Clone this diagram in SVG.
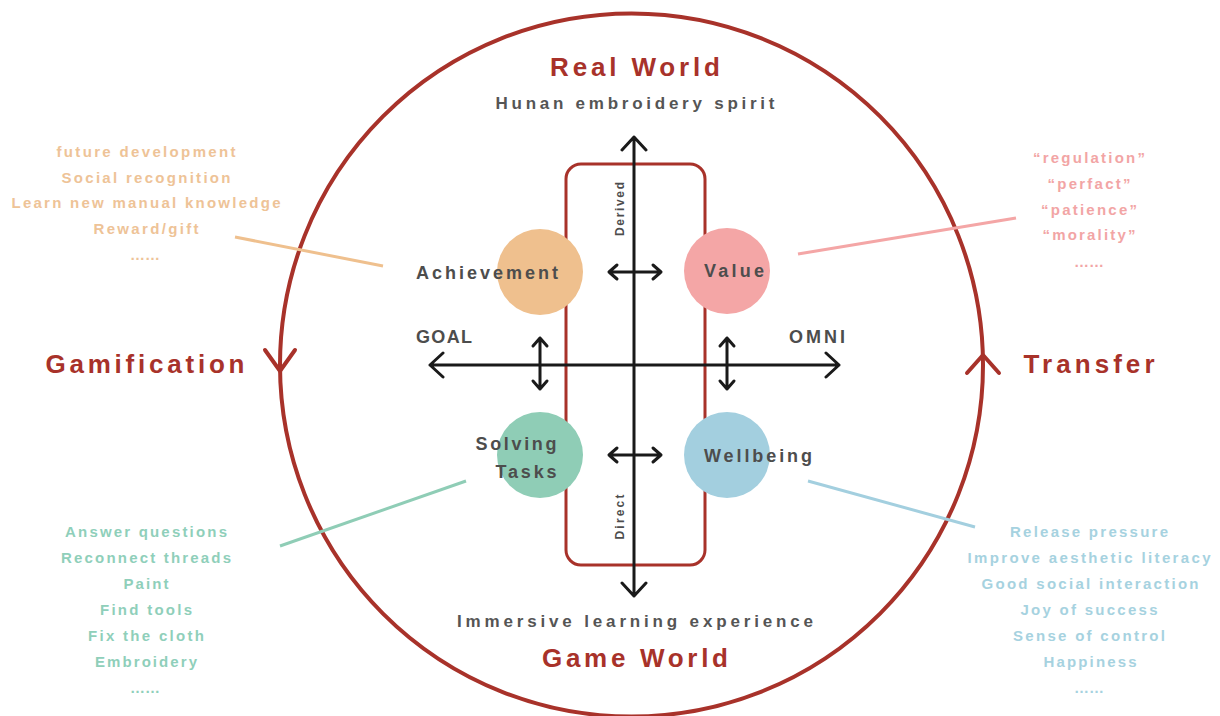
<svg xmlns="http://www.w3.org/2000/svg" width="1220" height="716" viewBox="0 0 1220 716">
<style>
text{font-family:"Liberation Sans",Arial,sans-serif;text-anchor:middle}
.title{font-size:26px;font-weight:bold;fill:#a8322a}
.sub{font-size:17px;font-weight:bold;fill:#555555}
.lbl{font-size:18px;font-weight:bold;fill:#4d4d4d}
.ax{font-size:12px;font-weight:bold;fill:#4d4d4d}
.li{font-size:15px;font-weight:bold}
.or{fill:#eec397}.pk{fill:#f2a5a5}.tl{fill:#8fcfba}.bl{fill:#a6d2e0}
.red{fill:none;stroke:#a8322a;stroke-width:4;stroke-linecap:round;stroke-linejoin:round}
.blk{fill:none;stroke:#1a1a1a;stroke-width:3;stroke-linecap:round;stroke-linejoin:round}
.lead{stroke-width:3;fill:none}
</style>
<rect width="1220" height="716" fill="#ffffff"/>
<g id="frame">
<circle cx="631.5" cy="365" r="351.5" class="red"/>
<path class="red" d="M265 350 L280 371 L295 350"/>
<path class="red" d="M967 373 L983 355 L999 373"/>
<rect x="566" y="164" width="139" height="401" rx="15" fill="none" stroke="#a8322a" stroke-width="3"/>
</g>
<g id="connectors">
<path class="blk" d="M634 137 V596 M622 150 L634 137 L646 150 M622 583 L634 596 L646 583"/>
<path class="blk" d="M430 365 H839 M443 353 L430 365 L443 377 M826 353 L839 365 L826 377"/>
<path class="blk" d="M609 272 H661 M617 265 L609 272 L617 279 M653 265 L661 272 L653 279"/>
<path class="blk" d="M609 455 H661 M617 448 L609 455 L617 462 M653 448 L661 455 L653 462"/>
<path class="blk" d="M540 338 V389 M533 346 L540 338 L547 346 M533 381 L540 389 L547 381"/>
<path class="blk" d="M727 338 V389 M720 346 L727 338 L734 346 M720 381 L727 389 L734 381"/>
<line class="lead" x1="235" y1="237" x2="383" y2="266" stroke="#efc08e"/>
<line class="lead" x1="798" y1="254" x2="1016" y2="218" stroke="#f4a6a6"/>
<line class="lead" x1="280" y1="546" x2="466" y2="481" stroke="#8fcdb6"/>
<line class="lead" x1="808" y1="481" x2="975" y2="527" stroke="#a3cfdf"/>
</g>
<g id="achievement">
<circle cx="540" cy="272" r="43" fill="#efc08e"/>
<text class="lbl" x="487" y="279" textLength="142" lengthAdjust="spacing">Achievement</text>
</g>
<g id="value">
<circle cx="727" cy="271" r="43" fill="#f4a6a6"/>
<text class="lbl" x="734" y="277" textLength="60" lengthAdjust="spacing">Value</text>
</g>
<g id="solving">
<circle cx="540" cy="455" r="43" fill="#8fcdb6"/>
<text class="lbl" x="516" y="450" textLength="81" lengthAdjust="spacing">Solving</text>
<text class="lbl" x="526" y="478" textLength="61" lengthAdjust="spacing">Tasks</text>
</g>
<g id="wellbeing">
<circle cx="727" cy="455" r="43" fill="#a3cfdf"/>
<text class="lbl" x="758" y="462" textLength="108" lengthAdjust="spacing">Wellbeing</text>
</g>
<g id="labels">
<text class="title" x="635" y="76" textLength="170" lengthAdjust="spacing">Real World</text>
<text class="sub" x="635" y="109" textLength="279" lengthAdjust="spacing">Hunan embroidery spirit</text>
<text class="sub" x="635" y="627" textLength="356" lengthAdjust="spacing">Immersive learning experience</text>
<text class="title" x="635" y="667" textLength="186" lengthAdjust="spacing">Game World</text>
<text class="title" x="145" y="373" textLength="199" lengthAdjust="spacing">Gamification</text>
<text class="title" x="1089" y="373" textLength="131" lengthAdjust="spacing">Transfer</text>
<text class="lbl" x="444" y="343" textLength="56" lengthAdjust="spacing">GOAL</text>
<text class="lbl" x="817" y="343" textLength="56" lengthAdjust="spacing">OMNI</text>
<text class="ax" transform="translate(624,209) rotate(-90)" textLength="54" lengthAdjust="spacing">Derived</text>
<text class="ax" transform="translate(624,517) rotate(-90)" textLength="45" lengthAdjust="spacing">Direct</text>
</g>
<g id="list-achievement">
<text class="li or" x="146" y="157" textLength="179" lengthAdjust="spacing">future development</text>
<text class="li or" x="146" y="183" textLength="169" lengthAdjust="spacing">Social recognition</text>
<text class="li or" x="146" y="208" textLength="269" lengthAdjust="spacing">Learn new manual knowledge</text>
<text class="li or" x="146" y="234" textLength="105" lengthAdjust="spacing">Reward/gift</text>
<text class="li or" x="145" y="260">……</text>
</g>
<g id="list-value">
<text class="li pk" x="1089" y="163" textLength="112" lengthAdjust="spacing">“regulation”</text>
<text class="li pk" x="1089" y="189" textLength="83" lengthAdjust="spacing">“perfact”</text>
<text class="li pk" x="1089" y="215" textLength="96" lengthAdjust="spacing">“patience”</text>
<text class="li pk" x="1089" y="240" textLength="93" lengthAdjust="spacing">“morality”</text>
<text class="li pk" x="1089" y="267">……</text>
</g>
<g id="list-solving">
<text class="li tl" x="146" y="537" textLength="162" lengthAdjust="spacing">Answer questions</text>
<text class="li tl" x="146" y="563" textLength="170" lengthAdjust="spacing">Reconnect threads</text>
<text class="li tl" x="146" y="589" textLength="45" lengthAdjust="spacing">Paint</text>
<text class="li tl" x="146" y="615" textLength="92" lengthAdjust="spacing">Find tools</text>
<text class="li tl" x="146" y="641" textLength="116" lengthAdjust="spacing">Fix the cloth</text>
<text class="li tl" x="146" y="667" textLength="102" lengthAdjust="spacing">Embroidery</text>
<text class="li tl" x="145" y="693">……</text>
</g>
<g id="list-wellbeing">
<text class="li bl" x="1089" y="537" textLength="158" lengthAdjust="spacing">Release pressure</text>
<text class="li bl" x="1089" y="563" textLength="243" lengthAdjust="spacing">Improve aesthetic literacy</text>
<text class="li bl" x="1090" y="589" textLength="217" lengthAdjust="spacing">Good social interaction</text>
<text class="li bl" x="1089" y="615" textLength="137" lengthAdjust="spacing">Joy of success</text>
<text class="li bl" x="1089" y="641" textLength="152" lengthAdjust="spacing">Sense of control</text>
<text class="li bl" x="1090" y="667" textLength="93" lengthAdjust="spacing">Happiness</text>
<text class="li bl" x="1089" y="693">……</text>
</g>
</svg>
